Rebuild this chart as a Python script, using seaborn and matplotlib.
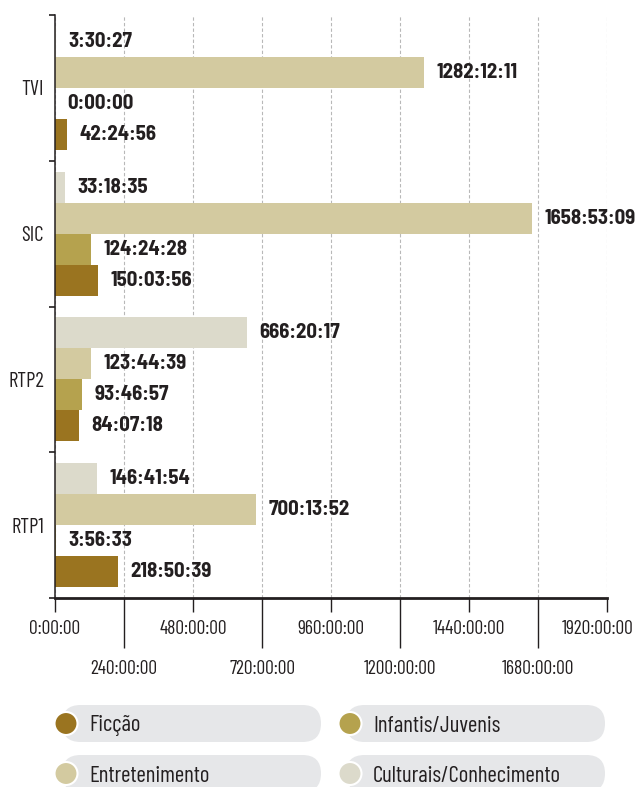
"""
Tempo de emissão por género e canal (horas:minutos:segundos).
Barras horizontais agrupadas, com legenda em "pílulas" por baixo.
"""

import matplotlib
matplotlib.use("Agg")
import matplotlib.pyplot as plt
from matplotlib import font_manager
from matplotlib.patches import FancyBboxPatch, Circle
from matplotlib.transforms import ScaledTranslation
import pandas as pd
import seaborn as sns

# ── Dados ──────────────────────────────────────────────────────────────────────
channels = ["TVI", "SIC", "RTP2", "RTP1"]

culturais = ["3:30:27", "33:18:35", "666:20:17", "146:41:54"]
entretenimento = ["1282:12:11", "1658:53:09", "123:44:39", "700:13:52"]
infantis = ["0:00:00", "124:24:28", "93:46:57", "3:56:33"]
ficcao = ["42:24:56", "150:03:56", "84:07:18", "218:50:39"]

# ordem de cima para baixo dentro de cada grupo
categories = ["Culturais/Conhecimento", "Entretenimento", "Infantis/Juvenis", "Ficção"]
series = [culturais, entretenimento, infantis, ficcao]

palette = ["#dcdacb", "#d3caa0", "#b5a24e", "#9a7420"]

major_hours = [0, 480, 960, 1440, 1920]
minor_hours = [240, 720, 1200, 1680]

legend_rows = [["Ficção", "Infantis/Juvenis"],
               ["Entretenimento", "Culturais/Conhecimento"]]

TEXT = "#231f20"


def _to_hours(s: str) -> float:
    h, m, sec = (int(p) for p in s.split(":"))
    return h + m / 60 + sec / 3600


def _fmt(h: int) -> str:
    return f"{h}:00:00"


def _pick(cands, installed):
    return next((c for c in cands if c in installed), "DejaVu Sans")


# ── Fonte ──────────────────────────────────────────────────────────────────────
sns.set_theme(style="white")
installed = {f.name for f in font_manager.fontManager.ttflist}
narrow = _pick(["Barlow Condensed", "Roboto Condensed", "Liberation Sans Narrow"], installed)
semi = _pick(["Barlow Semi Condensed", "Barlow Condensed", "Roboto Condensed"], installed)
plt.rcParams["font.family"] = [narrow, "DejaVu Sans"]

# ── Dataframe longo ────────────────────────────────────────────────────────────
rows = []
for cat, vals in zip(categories, series):
    for ch, v in zip(channels, vals):
        rows.append({"canal": ch, "categoria": cat, "horas": _to_hours(v)})
df = pd.DataFrame(rows)

# ── Figura ─────────────────────────────────────────────────────────────────────
W, H = 638, 787
fig = plt.figure(figsize=(W / 100, H / 100), dpi=100)
ax = fig.add_axes([55 / W, 1 - 598 / H, (607 - 55) / W, (598 - 15) / H])

sns.barplot(data=df, x="horas", y="canal", hue="categoria", order=channels,
            hue_order=categories, palette=palette, orient="h", width=0.85,
            saturation=1, errorbar=None, legend=False, ax=ax)
for patch in ax.patches:
    patch.set_edgecolor("none")

for cont, vals in zip(ax.containers, series):
    ax.bar_label(cont, labels=vals, padding=9, fontsize=15, fontweight="bold",
                 color=TEXT, family=[semi, "DejaVu Sans"])

ax.set_xlim(0, 1920)
ax.set_ylim(3.5, -0.5)
ax.set_xlabel("")
ax.set_ylabel("")

ax.set_xticks(major_hours, [_fmt(h) for h in major_hours])
ax.set_xticks(minor_hours, [_fmt(h) for h in minor_hours], minor=True)
ax.tick_params(axis="x", which="major", bottom=True, length=10, width=1,
               pad=6, labelsize=14, color=TEXT, labelcolor=TEXT)
ax.tick_params(axis="x", which="minor", bottom=True, length=36, width=1,
               pad=9, labelsize=14, color=TEXT, labelcolor=TEXT)

ax.set_yticks(range(len(channels)), channels)
ax.set_yticks([-0.5, 0.5, 1.5, 2.5, 3.5], minor=True)
ax.tick_params(axis="y", which="major", left=False, length=0, pad=8,
               labelsize=15, labelcolor=TEXT)
ax.tick_params(axis="y", which="minor", left=True, length=4, width=1.2,
               color=TEXT)

ax.xaxis.grid(True, which="both", linestyle=(0, (3, 2)), color="#b8b8b8",
              linewidth=0.8)
ax.yaxis.grid(False)
ax.set_axisbelow(True)

for side in ["top", "right"]:
    ax.spines[side].set_visible(False)
ax.spines["left"].set_linewidth(1.1)
ax.spines["left"].set_color(TEXT)
ax.spines["bottom"].set_linewidth(2)
ax.spines["bottom"].set_color(TEXT)

# último rótulo do eixo x encostado para dentro da figura
last = ax.get_xticklabels()[-1]
last.set_transform(last.get_transform() + ScaledTranslation(-9 / 100, 0, fig.dpi_scale_trans))

# ── Legenda em pílulas ─────────────────────────────────────────────────────────
lax = fig.add_axes([0, 0, 1, 1], zorder=5)
lax.set_xlim(0, W)
lax.set_ylim(H, 0)
lax.axis("off")

color_of = dict(zip(categories, palette))
col_x = [66, 350]
row_y = [723.5, 773.5]
for r, names in enumerate(legend_rows):
    for c, name in enumerate(names):
        x, y = col_x[c], row_y[r]
        lax.add_patch(FancyBboxPatch((x - 4, y - 18.5), 259, 37,
                                     boxstyle="round,pad=0,rounding_size=18.5",
                                     fc="#e6e7e9", ec="none"))
        lax.add_patch(Circle((x, y), 11.5, fc=color_of[name], ec="white", lw=1.5))
        lax.text(x + 23, y + 8, name, fontsize=16.5, color=TEXT, va="baseline",
                 ha="left")

fig.savefig("out.png", dpi=100)
